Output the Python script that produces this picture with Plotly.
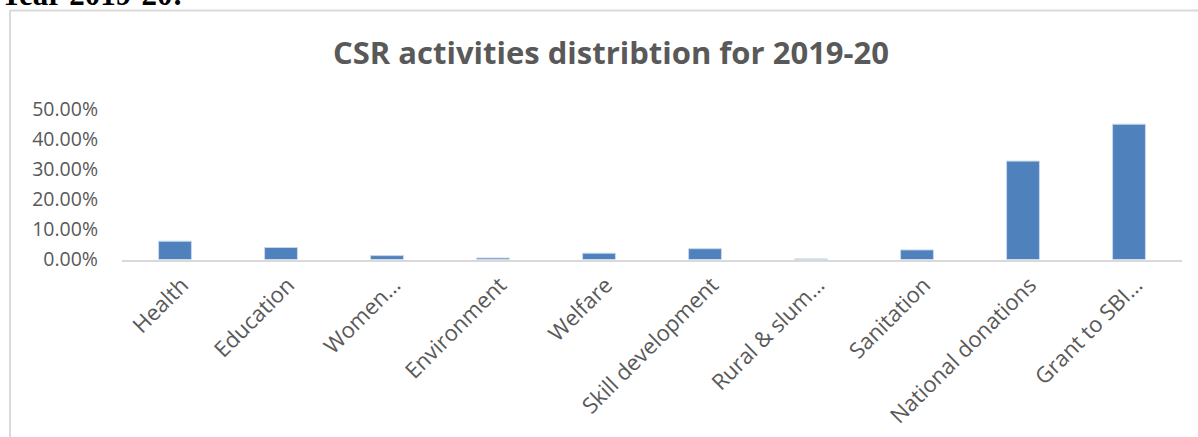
import plotly.graph_objects as go

categories = ["Health", "Education", "Women…", "Environment", "Welfare",
              "Skill development", "Rural & slum…", "Sanitation",
              "National donations", "Grant to SBI…"]
shares = [0.061, 0.040, 0.013, 0.005, 0.021, 0.036, 0.002, 0.032, 0.328, 0.451]
y_ticks = [0, 0.1, 0.2, 0.3, 0.4, 0.5]
y_tick_labels = ["0.00%", "10.00%", "20.00%", "30.00%", "40.00%", "50.00%"]

W, H = 1198, 437
def px(x):
    return x / W
def py(y):
    return 1 - y / H

fig = go.Figure()
fig.add_trace(go.Bar(
    x=categories, y=shares,
    marker=dict(color="#4f81bd", line=dict(color="#c9d7ea", width=1)),
    width=0.31,
))

fig.update_layout(
    width=W, height=H,
    margin=dict(l=0, r=0, t=0, b=0),
    paper_bgcolor="white", plot_bgcolor="white",
    showlegend=False,
    font=dict(family="Open Sans", color="#595959"),
    xaxis=dict(
        domain=[px(122), px(1182)],
        showgrid=False, showline=True, linecolor="#d9d9d9", linewidth=2,
        ticks="", tickangle=-45, tickfont=dict(size=22, color="#595959"),
        ticklabelstandoff=2, ticklabelshift=7,
        automargin=False,
    ),
    yaxis=dict(
        domain=[py(259.5), py(109.5)],
        range=[0, 0.5],
        tickvals=y_ticks, ticktext=y_tick_labels,
        showgrid=False, showline=False, zeroline=False,
        ticks="", tickfont=dict(size=19.5, color="#595959"),
        ticklabelstandoff=23,
        automargin=False,
    ),
    shapes=[
        dict(type="line", xref="paper", yref="paper",
             x0=px(10), x1=px(1198), y0=py(10.5), y1=py(10.5),
             line=dict(color="#d9d9d9", width=2)),
        dict(type="line", xref="paper", yref="paper",
             x0=px(10), x1=px(10), y0=py(10), y1=py(437),
             line=dict(color="#d9d9d9", width=2)),
    ],
    annotations=[
        dict(text="<b>CSR activities distribtion for 2019-20</b>",
             xref="paper", yref="paper", x=px(611), y=py(52),
             xanchor="center", yanchor="middle", showarrow=False,
             font=dict(family="Open Sans", size=31, color="#595959")),
        dict(text="<b>Year 2019-20:</b>",
             xref="paper", yref="paper", x=px(-2), y=py(-6),
             xanchor="left", yanchor="middle", showarrow=False,
             font=dict(family="Liberation Serif", size=31, color="black")),
    ],
)

fig.write_html("out.html")
